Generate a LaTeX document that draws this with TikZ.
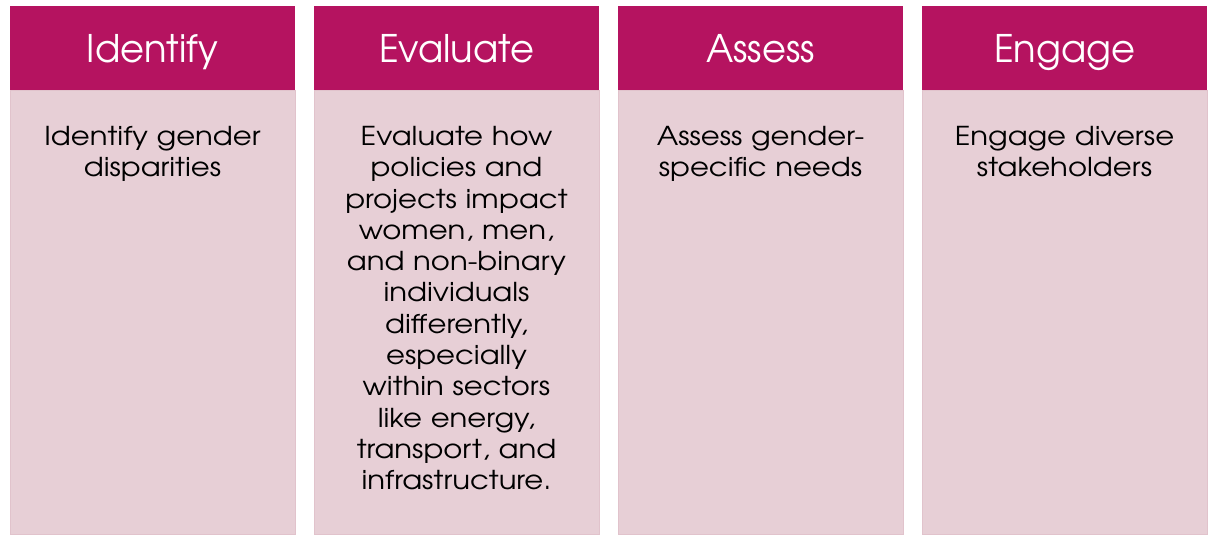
\documentclass[tikz,border=0pt]{standalone}
\usepackage{fontspec}
\setmainfont{texgyreadventor-regular.otf}
\newfontfamily\bodyfont[FakeStretch=1.12]{texgyreadventor-regular.otf}
\newfontfamily\headfont[FakeStretch=0.97]{texgyreadventor-regular.otf}
\definecolor{headc}{HTML}{B51360}
\definecolor{bodyc}{HTML}{E7CFD6}
\definecolor{bodyline}{HTML}{E1C3CC}
\tikzset{
  headbox/.style={fill=headc, draw=none},
  bodybox/.style={fill=bodyc, draw=bodyline, line width=1pt},
  headtext/.style={text=white, font=\headfont\fontsize{38}{44}\selectfont, inner sep=0pt, anchor=base},
  bodytext/.style={text=black, font=\bodyfont\fontsize{26}{31.3}\selectfont, inner sep=0pt, anchor=north, align=center, text width=270pt},
}
\begin{document}
\begin{tikzpicture}[x=1pt,y=-1pt]
\useasboundingbox (0,0) rectangle (1208,541);
\fill[white] (0,0) rectangle (1208,541);
\foreach \i/\h/\b in {0/Identify/{Identify gender\\disparities},
  1/Evaluate/{Evaluate how\\policies and\\projects impact\\women, men,\\and non-binary\\individuals\\differently,\\especially\\within sectors\\like energy,\\transport, and\\infrastructure.},
  2/Assess/{Assess gender-\\specific needs},
  3/Engage/{Engage diverse\\stakeholders}}{
  \pgfmathsetmacro{\xl}{10+304*\i}
  \pgfmathsetmacro{\xc}{\xl+142.5}
  \path[bodybox] (\xl,90) rectangle ++(285,444);
  \path[headbox] (\xl,6) rectangle ++(285,84);
  \node[headtext] (h\i) at (\xc,62) {\h};
  \node[bodytext] (b\i) at (\xc,126) {\b};
}
\end{tikzpicture}
\end{document}
